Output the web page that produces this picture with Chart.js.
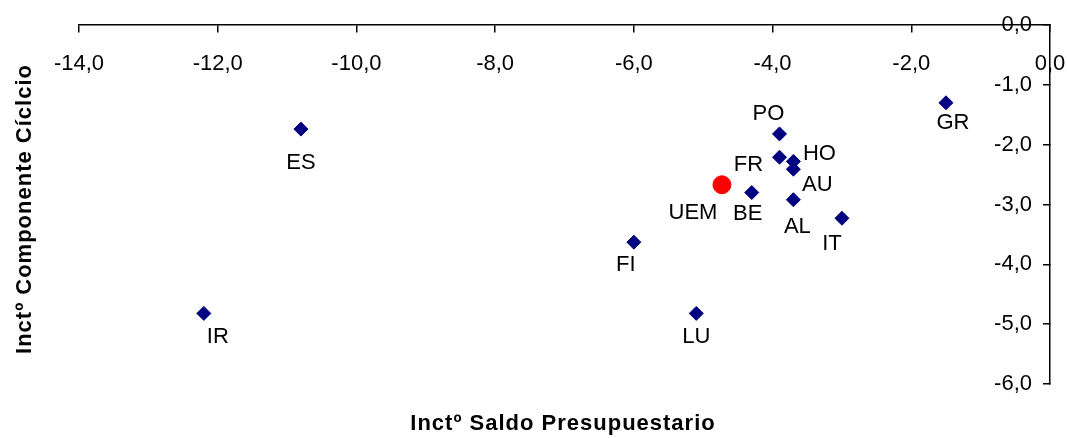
<!DOCTYPE html>
<html>
<head>
<meta charset="utf-8">
<script src="https://cdn.jsdelivr.net/npm/chart.js@4.4.1/dist/chart.umd.min.js"></script>
<style>
  html, body { margin: 0; padding: 0; background: #ffffff; }
  #wrap { width: 1067px; height: 438px; }
</style>
</head>
<body>
<div id="wrap"><canvas id="c" width="1067" height="438"></canvas></div>
<script>
// ---- data ----
const countries = ['ES', 'IR', 'FI', 'LU', 'BE', 'PO', 'FR', 'HO', 'AU', 'AL', 'IT', 'GR'];
const saldoValues = [-10.8, -12.2, -6.0, -5.1, -4.3, -3.9, -3.9, -3.7, -3.7, -3.7, -3.0, -1.5];
const cicloValues = [-1.74, -4.82, -3.63, -4.82, -2.80, -1.82, -2.21, -2.28, -2.41, -2.92, -3.23, -1.30];
const uemLabel = ['UEM'];
const uemSaldo = [-4.73];
const uemCiclo = [-2.67];
const xTickRange = [-14, 0];
const yTickRange = [-6, 0];
const xTitle = 'Inctº Saldo Presupuestario';
const yTitle = 'Inctº Componente Cíclcio';

// label placement (pixel offsets of text centre from the marker) – styling only
const countryLabelOffsets = {
  ES: [0, 34], IR: [14, 24], FI: [-8, 23], LU: [0, 24], BE: [-4, 21], PO: [-11, -20],
  FR: [-31, 8], HO: [26, -7], AU: [24, 16], AL: [4, 27], IT: [-10, 26], GR: [7, 20]
};
const uemLabelOffset = [-29, 28];

const fmt = v => Number(v).toFixed(1).replace('.', ',');
const FONT = '"Liberation Sans", Arial, sans-serif';

const pointLabels = {
  id: 'pointLabels',
  afterDatasetsDraw(chart) {
    const ctx = chart.ctx;
    ctx.save();
    ctx.font = '22px ' + FONT;
    ctx.fillStyle = '#000000';
    ctx.textAlign = 'center';
    ctx.textBaseline = 'middle';
    chart.data.datasets.forEach((ds, di) => {
      const meta = chart.getDatasetMeta(di);
      meta.data.forEach((pt, i) => {
        const name = ds.labelsText[i];
        const off = di === 0 ? countryLabelOffsets[name] : uemLabelOffset;
        ctx.fillText(name, pt.x + off[0], pt.y + off[1]);
      });
    });
    ctx.restore();
  }
};

const axisTitles = {
  id: 'axisTitles',
  afterDraw(chart) {
    const ctx = chart.ctx;
    ctx.save();
    ctx.font = 'bold 22px ' + FONT;
    try { ctx.letterSpacing = '1px'; } catch (e) {}
    ctx.fillStyle = '#000000';
    ctx.textAlign = 'center';
    ctx.textBaseline = 'middle';
    ctx.fillText(xTitle, 563, 424);
    ctx.translate(25, 209);
    ctx.rotate(-Math.PI / 2);
    ctx.fillText(yTitle, 0, 0);
    ctx.restore();
  }
};

new Chart(document.getElementById('c'), {
  type: 'scatter',
  data: {
    datasets: [
      {
        label: 'Países',
        labelsText: countries,
        data: saldoValues.map((x, i) => ({ x: x, y: cicloValues[i] })),
        pointStyle: 'rectRot',
        pointRadius: 7,
        pointHoverRadius: 7,
        backgroundColor: '#000080',
        borderColor: '#000080',
        borderWidth: 1
      },
      {
        label: 'UEM',
        labelsText: uemLabel,
        data: uemSaldo.map((x, i) => ({ x: x, y: uemCiclo[i] })),
        pointStyle: 'circle',
        pointRadius: 9,
        pointHoverRadius: 9,
        backgroundColor: '#ff0000',
        borderColor: '#ff0000',
        borderWidth: 1
      }
    ]
  },
  options: {
    responsive: false,
    animation: false,
    devicePixelRatio: 1,
    layout: { padding: { left: 79, right: 0, top: 25, bottom: 54 } },
    plugins: { legend: { display: false }, tooltip: { enabled: false } },
    scales: {
      x: {
        type: 'linear',
        position: { y: 0 },
        min: xTickRange[0],
        max: xTickRange[1],
        afterFit(scale) { scale.paddingLeft = 0; scale.paddingRight = 0; },
        ticks: {
          stepSize: 2, autoSkip: false, maxRotation: 0,
          color: '#000000', font: { size: 22, family: FONT },
          padding: 19,
          callback: v => fmt(v)
        },
        grid: { drawOnChartArea: false, drawTicks: true, tickLength: 7, color: '#000000', lineWidth: 1.5 },
        border: { display: true, color: '#000000', width: 1.5 }
      },
      y: {
        type: 'linear',
        position: 'right',
        min: yTickRange[0],
        max: yTickRange[1],
        afterFit(scale) { scale.width = 17; scale.paddingTop = 0; scale.paddingBottom = 0; },
        ticks: {
          stepSize: 1, autoSkip: false, mirror: true, crossAlign: 'near',
          color: '#000000', font: { size: 22, family: FONT },
          padding: -18,
          callback: v => fmt(v)
        },
        grid: { drawOnChartArea: false, drawTicks: true, tickLength: -7, color: '#000000', lineWidth: 1.5 },
        border: { display: true, color: '#000000', width: 1.5 }
      }
    }
  },
  plugins: [pointLabels, axisTitles]
});
</script>
</body>
</html>
